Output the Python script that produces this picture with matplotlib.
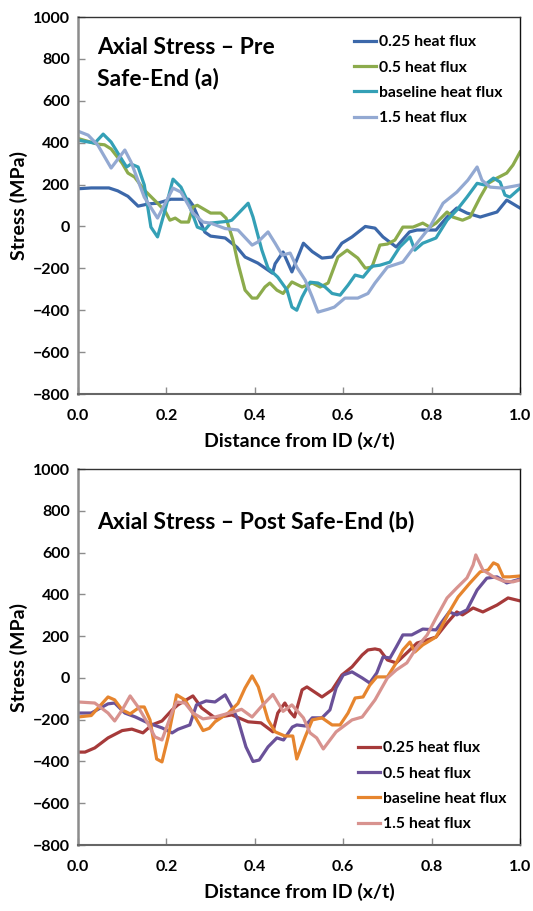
import matplotlib
matplotlib.use("Agg")
import matplotlib.pyplot as plt

plt.rcParams['font.family'] = ['Lato', 'DejaVu Sans']
plt.rcParams['font.weight'] = 'bold'

labels = ['0.25 heat flux', '0.5 heat flux', 'baseline heat flux', '1.5 heat flux']

# --- (a) pre safe-end ---
pre_x_025 = [0, 0.03, 0.07, 0.09, 0.113, 0.136, 0.16, 0.18, 0.21, 0.25, 0.26, 0.287, 0.30, 0.333,
             0.36, 0.378, 0.407, 0.44, 0.446, 0.464, 0.484, 0.51, 0.53, 0.552, 0.575, 0.597, 0.62,
             0.65, 0.672, 0.69, 0.72, 0.75, 0.767, 0.81, 0.835, 0.857, 0.88, 0.91, 0.948, 0.97, 1.0]
pre_y_025 = [180, 184, 184, 170, 144, 97, 108, 111, 130, 130, 101, -27, -46, -55,
             -100, -146, -175, -223, -178, -122, -217, -80, -120, -151, -146, -80, -50,
             0, -8, -50, -98, -26, -17, -17, 45, 88, 64, 45, 69, 126, 88]

pre_x_05 = [0, 0.045, 0.06, 0.075, 0.1, 0.113, 0.128, 0.15, 0.18, 0.197, 0.208, 0.22, 0.233, 0.25,
            0.26, 0.27, 0.30, 0.323, 0.335, 0.35, 0.362, 0.378, 0.394, 0.405, 0.423, 0.434, 0.45,
            0.464, 0.484, 0.507, 0.53, 0.548, 0.566, 0.588, 0.609, 0.633, 0.65, 0.665, 0.683, 0.7,
            0.717, 0.735, 0.758, 0.78, 0.796, 0.81, 0.835, 0.848, 0.87, 0.887, 0.91, 0.928, 0.948,
            0.97, 0.984, 1.0]
pre_y_05 = [420, 393, 390, 370, 302, 255, 236, 174, 111, 74, 30, 40, 21, 21,
            93, 101, 64, 64, 40, -60, -176, -304, -342, -342, -289, -270, -304,
            -320, -265, -289, -270, -289, -270, -146, -113, -151, -199, -194, -89, -84,
            -65, -3, -3, 16, -3, 16, 69, 45, 30, 45, 140, 206, 231,
            255, 293, 355]

pre_x_base = [0, 0.038, 0.057, 0.075, 0.1, 0.11, 0.12, 0.136, 0.15, 0.165, 0.18, 0.197, 0.215,
              0.233, 0.25, 0.27, 0.287, 0.30, 0.34, 0.348, 0.37, 0.385, 0.396, 0.416, 0.43, 0.452,
              0.473, 0.484, 0.495, 0.507, 0.525, 0.543, 0.559, 0.575, 0.593, 0.611, 0.627, 0.645,
              0.665, 0.683, 0.706, 0.728, 0.751, 0.762, 0.78, 0.81, 0.835, 0.857, 0.88, 0.903,
              0.92, 0.94, 0.955, 0.966, 0.977, 1.0]
pre_y_base = [412, 398, 441, 403, 317, 284, 298, 284, 198, -3, -50, 78, 226,
              188, 111, -3, -17, 16, 25, 30, 78, 111, 45, -113, -199, -242,
              -304, -385, -400, -337, -266, -270, -289, -320, -328, -280, -232, -242,
              -190, -185, -170, -98, -50, -113, -80, -55, 30, 78, 140, 206,
              198, 231, 212, 150, 140, 183]

pre_x_15 = [0, 0.023, 0.045, 0.075, 0.106, 0.12, 0.15, 0.18, 0.215, 0.233, 0.26, 0.283, 0.30,
            0.333, 0.362, 0.394, 0.407, 0.43, 0.446, 0.462, 0.48, 0.495, 0.514, 0.53, 0.543,
            0.566, 0.58, 0.604, 0.633, 0.656, 0.672, 0.7, 0.735, 0.767, 0.796, 0.826, 0.857,
            0.882, 0.903, 0.914, 0.932, 0.962, 1.0]
pre_y_15 = [455, 436, 388, 279, 365, 308, 140, 40, 183, 164, 64, 21, 16,
            -10, -17, -89, -74, -26, -80, -137, -127, -194, -256, -337, -409,
            -395, -385, -342, -342, -320, -270, -194, -170, -80, -3, 111, 164,
            221, 284, 221, 188, 183, 198]

# --- (b) post safe-end ---
post_x_025 = [0, 0.016, 0.038, 0.068, 0.1, 0.122, 0.147, 0.167, 0.19, 0.213, 0.226, 0.26, 0.28,
              0.31, 0.348, 0.385, 0.414, 0.441, 0.452, 0.468, 0.48, 0.49, 0.507, 0.518, 0.552,
              0.575, 0.597, 0.62, 0.643, 0.656, 0.672, 0.683, 0.7, 0.72, 0.744, 0.767, 0.79,
              0.81, 0.835, 0.857, 0.87, 0.894, 0.916, 0.948, 0.973, 1.0]
post_y_025 = [-355, -355, -335, -287, -252, -245, -263, -225, -206, -153, -129, -86, -144,
              -191, -177, -210, -215, -258, -168, -120, -163, -187, -57, -43, -91,
              -57, 14, 53, 110, 134, 139, 134, 86, 72, 120, 167, 182,
              196, 263, 316, 302, 335, 316, 349, 383, 369]

post_x_05 = [0, 0.03, 0.068, 0.083, 0.106, 0.13, 0.158, 0.19, 0.213, 0.226, 0.253, 0.268, 0.29,
             0.31, 0.333, 0.348, 0.362, 0.38, 0.396, 0.41, 0.43, 0.45, 0.465, 0.485, 0.495, 0.514,
             0.53, 0.552, 0.57, 0.584, 0.6, 0.62, 0.643, 0.66, 0.676, 0.69, 0.706, 0.72, 0.735,
             0.755, 0.78, 0.81, 0.84, 0.857, 0.88, 0.903, 0.925, 0.948, 0.97, 0.993, 1.0]
post_y_05 = [-168, -168, -124, -120, -168, -187, -215, -239, -263, -246, -225, -129, -110,
             -115, -81, -139, -200, -330, -400, -393, -330, -287, -297, -235, -225, -230,
             -191, -191, -153, -48, 14, 29, 0, -24, 24, 100, 96, 148, 206,
             206, 234, 230, 316, 302, 326, 421, 478, 484, 455, 469, 474]

post_x_base = [0, 0.03, 0.068, 0.083, 0.1, 0.118, 0.14, 0.15, 0.163, 0.178, 0.19, 0.204, 0.223,
               0.242, 0.26, 0.283, 0.297, 0.31, 0.34, 0.362, 0.378, 0.394, 0.408, 0.43, 0.446,
               0.468, 0.486, 0.495, 0.514, 0.53, 0.552, 0.575, 0.593, 0.611, 0.627, 0.645, 0.66,
               0.676, 0.7, 0.72, 0.735, 0.751, 0.762, 0.78, 0.81, 0.84, 0.86, 0.887, 0.91,
               0.928, 0.94, 0.95, 0.962, 0.977, 1.0]
post_y_base = [-187, -180, -91, -105, -153, -172, -139, -139, -201, -388, -402, -282, -81,
               -105, -168, -252, -241, -210, -168, -122, -48, 10, -43, -201, -258,
               -278, -278, -388, -282, -201, -191, -225, -225, -168, -96, -91, -35,
               5, 5, 72, 134, 172, 124, 158, 196, 316, 388, 455, 508,
               517, 551, 541, 484, 484, 488]

post_x_15 = [0, 0.038, 0.068, 0.083, 0.1, 0.118, 0.136, 0.156, 0.174, 0.19, 0.213, 0.223, 0.242,
             0.26, 0.283, 0.31, 0.348, 0.37, 0.394, 0.416, 0.441, 0.464, 0.484, 0.51, 0.525, 0.54,
             0.555, 0.584, 0.62, 0.643, 0.672, 0.7, 0.72, 0.744, 0.767, 0.79, 0.81, 0.835, 0.857,
             0.88, 0.894, 0.9, 0.916, 0.94, 0.962, 0.984, 1.0]
post_y_15 = [-115, -120, -168, -206, -153, -86, -139, -210, -282, -297, -163, -115, -120,
             -168, -196, -187, -165, -150, -187, -134, -79, -160, -129, -191, -263, -287,
             -340, -258, -201, -187, -105, 0, 38, 72, 148, 206, 287, 383, 431,
             479, 541, 589, 517, 484, 464, 460, 469]

pre_colors = ['#3C68AA', '#8CAB4C', '#34A0B6', '#93A9D2']
post_colors = ['#A63A3A', '#6A5199', '#E6852E', '#D8938F']


def style_axes(ax):
    ax.set_xlim(0, 1.0)
    ax.set_ylim(-800, 1000)
    ax.set_xticks([0.0, 0.2, 0.4, 0.6, 0.8, 1.0])
    ax.set_xticklabels(['0.0', '0.2', '0.4', '0.6', '0.8', '1.0'])
    ax.set_yticks(range(-800, 1001, 200))
    ax.tick_params(direction='in', length=5, width=1, color='#8c8c8c', labelsize=11.5)
    ax.tick_params(axis='x', pad=11)
    ax.tick_params(axis='y', pad=6)
    ax.spines['left'].set_color('#8c8c8c')
    ax.spines['left'].set_linewidth(1.8)
    ax.spines['bottom'].set_color('#666666')
    ax.spines['bottom'].set_linewidth(1.5)
    ax.spines['top'].set_color('#333333')
    ax.spines['top'].set_linewidth(1.0)
    ax.spines['right'].set_color('#111111')
    ax.spines['right'].set_linewidth(1.0)
    ax.set_xlabel('Distance from ID (x/t)', fontsize=14, fontweight='bold', labelpad=6)
    ax.set_ylabel('Stress (MPa)', fontsize=14, fontweight='bold', labelpad=3)
    for lab in ax.get_xticklabels() + ax.get_yticklabels():
        lab.set_fontweight('bold')


fig = plt.figure(figsize=(5.33, 9.11), dpi=100)
ax1 = fig.add_axes([0.1463, 0.5675, 0.8293, 0.4138])
ax2 = fig.add_axes([0.1463, 0.0724, 0.8293, 0.4127])

pre = [(pre_x_025, pre_y_025), (pre_x_05, pre_y_05), (pre_x_base, pre_y_base), (pre_x_15, pre_y_15)]
post = [(post_x_025, post_y_025), (post_x_05, post_y_05), (post_x_base, post_y_base), (post_x_15, post_y_15)]

for (xs, ys), c, lab in zip(pre, pre_colors, labels):
    ax1.plot(xs, ys, color=c, lw=2.3, label=lab, solid_joinstyle='round')
for (xs, ys), c, lab in zip(post, post_colors, labels):
    ax2.plot(xs, ys, color=c, lw=2.3, label=lab, solid_joinstyle='round')

style_axes(ax1)
style_axes(ax2)

ax1.text(0.043, 0.948, 'Axial Stress \u2013 Pre\nSafe-End (a)', transform=ax1.transAxes,
         fontsize=16.5, fontweight='bold', va='top', ha='left', linespacing=1.58)
ax2.text(0.043, 0.89, 'Axial Stress \u2013 Post Safe-End (b)', transform=ax2.transAxes,
         fontsize=16.5, fontweight='bold', va='top', ha='left')

leg_kw = dict(frameon=False, fontsize=11.3, handlelength=1.4, handletextpad=0.2,
              labelspacing=0.72, borderaxespad=0)
ax1.legend(loc='upper left', bbox_to_anchor=(0.61, 0.968), **leg_kw)
ax2.legend(loc='lower left', bbox_to_anchor=(0.62, 0.02), **leg_kw)

fig.savefig('out.png', dpi=100)
